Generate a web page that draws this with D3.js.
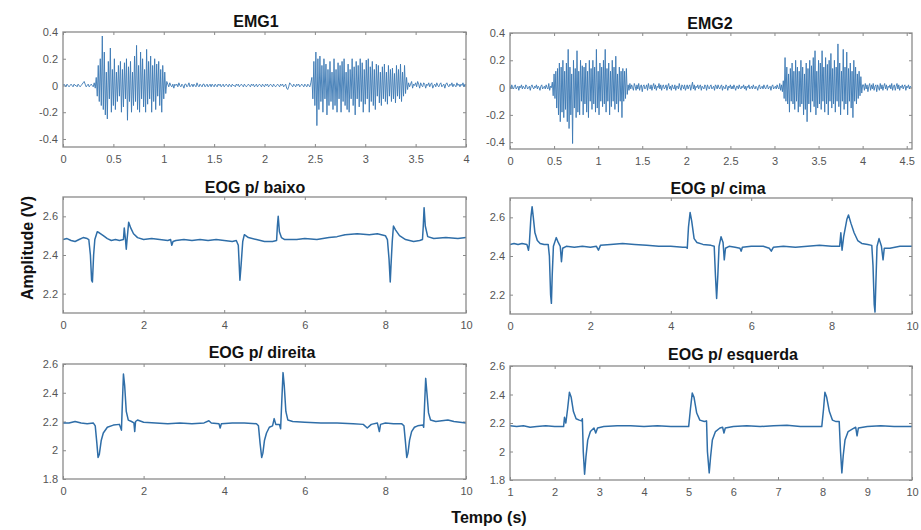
<html>
  <head>
    <script src="https://d3js.org/d3.v7.min.js"></script>
  <style>
    body { margin: 0; background: #fff; }
    .tick text {
      font-family: "Liberation Sans", Arial, sans-serif;
      font-size: 11px;
      fill: #555;
    }
    .tick line { stroke: #8a8a8a; }
    .domain { display: none; }
    .title {
      font-family: "Liberation Sans", Arial, sans-serif;
      font-size: 16px;
      font-weight: bold;
      fill: #111;
      text-anchor: middle;
    }
  </style>
  </head>

  <body>
    <svg id="mainSVG" width="921" height="530"></svg>
  </body>

  <script>
    // sampling step of the EMG recordings (s)
    const emgStep = 0.01;

    // EMG1, 0 .. 4 s
    const emg1 = [
      // quiet 0.00 - 0.32
      0, 0.01, 0, -0.01, 0.01, 0, -0.01, 0, 0.01, 0, -0.01, 0.01, 0, 0, -0.01, 0.01, 0, -0.01, 0, 0.01,
      0.02, 0.03, 0.01, -0.01, 0, 0.01, -0.01, 0, 0.01, 0, -0.01, 0.02, -0.02,
      // burst 0.33 - 1.03
      0.06, -0.08, 0.15, -0.12, 0.2, -0.15, 0.37, -0.18, 0.25, -0.22,
      0.1, -0.25, 0.18, -0.1, 0.28, -0.2, 0.12, -0.15, 0.2, -0.18,
      0.1, -0.12, 0.15, -0.08, 0.18, -0.2, 0.12, -0.16, 0.17, -0.1,
      0.2, -0.26, 0.14, -0.12, 0.18, -0.2, 0.1, -0.15, 0.22, -0.12,
      0.3, -0.18, 0.15, -0.2, 0.25, -0.1, 0.2, -0.16, 0.12, -0.2,
      0.27, -0.14, 0.18, -0.1, 0.22, -0.2, 0.15, -0.12, 0.2, -0.18,
      0.16, -0.08, 0.18, -0.15, 0.12, -0.2, 0.15, -0.1, 0.1, -0.06,
      0.03,
      // quiet 1.04 - 2.46
      0.01, -0.01, 0.02, 0, -0.01, 0.01, -0.02, 0.01, 0, 0.01,
      -0.01, 0.02, 0, -0.01, 0.01, 0, -0.02, 0.01, 0.01, -0.01,
      0, 0.02, -0.01, 0, 0.01, -0.01, 0.01, 0, -0.01, 0.02,
      0, -0.01, 0.01, 0, -0.01, 0.01, 0.01, -0.01, 0, 0.01,
      -0.01, 0, 0.01, -0.01, 0.01, 0, -0.01, 0.01, 0, -0.01,
      0.01, 0, 0.01, -0.01, 0, 0.01, -0.01, 0, 0.01, 0,
      -0.01, 0.01, 0, -0.01, 0.01, 0, 0, -0.01, 0.01, 0,
      0.01, -0.01, 0, 0.01, 0, -0.01, 0.01, 0, -0.01, 0,
      0.01, 0, -0.01, 0.01, 0, 0.01, -0.01, 0, 0.01, -0.01,
      0, 0.01, 0, -0.01, 0.01, 0, -0.01, 0.01, 0, 0.01,
      -0.01, 0, 0.01, 0, -0.01, 0.01, 0, -0.01, 0, 0.01,
      0, -0.01, 0.01, 0, 0.01, -0.01, 0, 0.01, -0.02, -0.03,
      -0.01, 0.02, 0.01, 0, -0.01, 0.01, 0, -0.01, 0.01, 0,
      0.01, -0.01, 0, 0.01, 0, -0.01, 0.01, 0, -0.01, 0.01,
      0, -0.01, 0.02,
      // burst 2.47 - 3.42
      0.06, -0.1, 0.18, -0.15, 0.25, -0.3, 0.2, -0.18, 0.22, -0.12,
      0.15, -0.2, 0.2, -0.1, 0.16, -0.22, 0.12, -0.15, 0.18, -0.12,
      0.1, -0.18, 0.2, -0.15, 0.12, -0.2, 0.17, -0.1, 0.15, -0.2,
      0.18, -0.12, 0.2, -0.15, 0.1, -0.18, 0.16, -0.2, 0.12, -0.1,
      0.2, -0.15, 0.14, -0.22, 0.18, -0.1, 0.15, -0.16, 0.2, -0.12,
      0.17, -0.2, 0.12, -0.14, 0.19, -0.1, 0.2, -0.2, 0.14, -0.12,
      0.18, -0.15, 0.12, -0.18, 0.16, -0.08, 0.15, -0.13, 0.1, -0.15,
      0.14, -0.1, 0.16, -0.12, 0.1, -0.14, 0.15, -0.08, 0.12, -0.12,
      0.13, -0.1, 0.09, -0.13, 0.15, -0.08, 0.12, -0.1, 0.16, -0.12,
      0.1, -0.08, 0.15, -0.06, 0.06, -0.03,
      // quiet 3.43 - 4.00
      0.02, -0.01, 0.01, 0.03, -0.02, 0.01, 0, 0.02, -0.01, 0.03,
      0.01, -0.02, 0.02, 0, -0.01, 0.02, 0.01, -0.02, 0.01, 0,
      0.02, -0.01, 0.01, 0.02, -0.02, 0, 0.01, -0.01, 0.02, 0,
      -0.01, 0.01, 0.02, -0.01, 0, 0.01, -0.02, 0.01, 0.02, 0,
      -0.01, 0.01, 0, 0.02, -0.01, 0.01, 0, -0.01, 0.02, 0,
      0.01, -0.01, 0.01, 0, 0.02, -0.01, 0.01, 0
    ];

    // EMG2, 0 .. 4.55 s
    const emg2 = [
      // quiet 0.00 - 0.47
      0.01, -0.01, 0.02, 0, -0.01, 0.01, 0.02, -0.01, 0, 0.01,
      -0.02, 0.01, 0, 0.02, -0.01, 0.01, 0, -0.01, 0.02, 0.01,
      -0.01, 0, 0.01, -0.02, 0.01, 0.02, 0, -0.01, 0.01, 0,
      0.02, -0.01, 0.01, 0, -0.02, 0.01, 0.02, -0.01, 0, 0.01,
      -0.01, 0.02, 0, -0.01, 0.03, -0.02, 0.01, 0,
      // burst 0.48 - 1.33
      0.04, -0.06, 0.1, -0.08, 0.12, -0.15, 0.14, -0.2, 0.18, -0.25,
      0.15, -0.18, 0.2, -0.22, 0.12, -0.16, 0.18, -0.25, 0.28, -0.3,
      0.15, -0.2, 0.1, -0.41, 0.2, -0.15, 0.14, -0.22, 0.27, -0.18,
      0.12, -0.2, 0.2, -0.1, 0.16, -0.2, 0.15, -0.12, 0.18, -0.18,
      0.12, -0.22, 0.2, -0.1, 0.14, -0.16, 0.2, -0.12, 0.15, -0.18,
      0.28, -0.15, 0.12, -0.2, 0.18, -0.1, 0.15, -0.14, 0.2, -0.12,
      0.28, -0.18, 0.14, -0.1, 0.18, -0.2, 0.12, -0.14, 0.2, -0.1,
      0.15, -0.16, 0.23, -0.12, 0.1, -0.18, 0.15, -0.1, 0.12, -0.22,
      0.14, -0.1, 0.12, -0.08, 0.14, -0.05,
      // quiet 1.34 - 3.09
      0.02, -0.02, 0.03, -0.01, 0.02, 0, -0.02, 0.03, 0.01, -0.02,
      0.02, -0.01, 0.03, -0.02, 0.01, 0.02, -0.03, 0.01, 0.02, -0.01,
      0, 0.02, -0.02, 0.03, 0, -0.01, 0.02, -0.02, 0.01, 0.03,
      -0.01, 0.02, -0.02, 0.01, 0, 0.03, -0.01, 0.02, -0.02, 0.01,
      0.02, -0.01, 0, 0.02, -0.02, 0.01, 0.03, -0.01, 0.01, -0.02,
      0.02, 0, -0.01, 0.02, -0.02, 0.01, 0.01, -0.01, 0.03, 0,
      -0.02, 0.02, 0.01, -0.01, 0.02, -0.02, 0, 0.02, -0.01, 0.01,
      0.02, -0.02, 0.01, 0.04, -0.01, 0.02, -0.02, 0.01, 0, 0.02,
      -0.01, 0.01, 0.02, -0.02, 0.01, 0, -0.01, 0.02, 0.01, -0.02,
      0.02, 0, -0.01, 0.01, 0.02, -0.01, 0, 0.01, -0.02, 0.02,
      0.01, -0.01, 0.02, 0, -0.01, 0.01, 0.02, -0.02, 0.01, 0,
      -0.01, 0.02, 0.01, -0.02, 0.01, 0, 0.02, -0.01, 0.01, -0.01,
      0.02, 0, -0.02, 0.01, 0.01, -0.01, 0.02, 0, -0.01, 0.01,
      0, 0.02, -0.01, 0.01, -0.02, 0.01, 0, 0.02, -0.01, 0,
      0.01, -0.01, 0.02, 0, -0.01, 0.01, 0, -0.02, 0.01, 0.02,
      -0.01, 0, 0.01, -0.01, 0.02, 0, -0.01, 0.01, 0.02, -0.01,
      0, 0.01, -0.02, 0.01, 0.02, -0.01, 0, 0.01, -0.01, 0.02,
      0, -0.01, 0.03, -0.02, 0.02, -0.03,
      // burst 3.10 - 4.00
      0.05, -0.08, 0.22, -0.1, 0.15, -0.12, 0.1, -0.18, 0.14, -0.1,
      0.18, -0.12, 0.12, -0.16, 0.2, -0.1, 0.15, -0.18, 0.12, -0.14,
      0.2, -0.12, 0.15, -0.2, 0.1, -0.16, 0.18, -0.25, 0.14, -0.12,
      0.2, -0.18, 0.16, -0.1, 0.22, -0.14, 0.27, -0.2, 0.12, -0.15,
      0.2, -0.12, 0.18, -0.16, 0.27, -0.1, 0.15, -0.18, 0.22, -0.12,
      0.17, -0.2, 0.2, -0.1, 0.25, -0.15, 0.14, -0.12, 0.2, -0.18,
      0.15, -0.1, 0.32, -0.14, 0.18, -0.2, 0.12, -0.1, 0.28, -0.16,
      0.15, -0.12, 0.26, -0.2, 0.14, -0.1, 0.18, -0.15, 0.12, -0.22,
      0.2, -0.1, 0.15, -0.12, 0.1, -0.08, 0.12, -0.06, 0.08, -0.04,
      0.02,
      // quiet 4.01 - 4.55
      0.02, -0.02, 0.03, -0.01, 0.02, -0.03, 0.01, 0.03, -0.02, 0.02,
      -0.01, 0.03, -0.02, 0.01, 0.02, -0.03, 0.02, 0, -0.02, 0.03,
      -0.01, 0.02, -0.02, 0.01, 0.03, -0.01, 0.02, -0.02, 0.01, 0,
      0.02, -0.01, 0.03, -0.02, 0.01, 0.02, -0.02, 0.01, 0.03, -0.01,
      0.02, -0.02, 0.01, 0, 0.02, -0.01, 0.01, 0.02, -0.02, 0.01,
      0, 0.02, -0.01, 0.01, 0
    ];

    // EOG recordings as [time (s), amplitude (V)]
    const eogBaixo = [
      [0,2.48],[0.1,2.485],[0.2,2.475],[0.3,2.47],[0.4,2.48],[0.5,2.49],[0.6,2.485],[0.64,2.48],
      [0.68,2.40],[0.71,2.27],[0.73,2.26],[0.76,2.40],[0.79,2.48],[0.85,2.52],[0.9,2.515],[1.0,2.50],
      [1.1,2.485],[1.2,2.475],[1.3,2.48],[1.4,2.475],[1.5,2.48],[1.52,2.54],[1.55,2.48],[1.57,2.43],
      [1.59,2.48],[1.63,2.57],[1.68,2.54],[1.75,2.51],[1.85,2.49],[2.0,2.48],[2.2,2.485],[2.4,2.48],
      [2.6,2.475],[2.67,2.48],[2.7,2.45],[2.73,2.47],[2.8,2.475],[3.0,2.48],[3.2,2.475],[3.4,2.48],
      [3.6,2.475],[3.8,2.48],[4.0,2.475],[4.2,2.47],[4.3,2.475],[4.35,2.45],[4.39,2.27],[4.42,2.35],
      [4.46,2.47],[4.5,2.505],[4.6,2.49],[4.8,2.48],[5.0,2.47],[5.2,2.47],[5.3,2.475],[5.32,2.55],
      [5.34,2.6],[5.37,2.52],[5.42,2.49],[5.5,2.48],[5.8,2.48],[6.0,2.485],[6.3,2.48],[6.6,2.49],
      [6.8,2.495],[7.0,2.505],[7.3,2.51],[7.6,2.505],[7.8,2.51],[8.0,2.50],[8.05,2.48],[8.09,2.38],
      [8.12,2.26],[8.14,2.35],[8.17,2.47],[8.2,2.55],[8.25,2.53],[8.35,2.50],[8.5,2.48],[8.7,2.47],
      [8.85,2.475],[8.92,2.48],[8.94,2.55],[8.96,2.645],[8.99,2.55],[9.05,2.495],[9.2,2.485],[9.5,2.49],
      [9.8,2.485],[10,2.49]
    ];

    const eogCima = [
      [0,2.46],[0.1,2.465],[0.2,2.46],[0.3,2.465],[0.42,2.46],[0.46,2.43],[0.48,2.46],[0.52,2.6],
      [0.55,2.655],[0.58,2.6],[0.62,2.52],[0.68,2.48],[0.75,2.465],[0.85,2.46],[0.95,2.46],[0.98,2.4],
      [1.01,2.2],[1.03,2.155],[1.05,2.3],[1.08,2.45],[1.15,2.495],[1.2,2.47],[1.25,2.45],[1.28,2.37],
      [1.31,2.44],[1.4,2.45],[1.6,2.445],[1.8,2.45],[2.0,2.445],[2.15,2.45],[2.2,2.43],[2.25,2.455],
      [2.5,2.46],[2.8,2.465],[3.1,2.46],[3.4,2.455],[3.7,2.45],[4.0,2.45],[4.3,2.445],[4.38,2.445],
      [4.41,2.44],[4.44,2.55],[4.48,2.625],[4.52,2.58],[4.58,2.49],[4.65,2.47],[4.8,2.46],[5.0,2.455],
      [5.08,2.45],[5.11,2.3],[5.14,2.18],[5.17,2.3],[5.2,2.45],[5.25,2.50],[5.3,2.47],[5.33,2.38],
      [5.36,2.44],[5.45,2.45],[5.6,2.445],[5.72,2.44],[5.75,2.425],[5.78,2.445],[6.0,2.45],[6.3,2.45],
      [6.45,2.44],[6.5,2.425],[6.55,2.445],[6.8,2.45],[7.1,2.445],[7.4,2.45],[7.7,2.455],[8.0,2.45],
      [8.2,2.45],[8.23,2.52],[8.26,2.43],[8.3,2.5],[8.38,2.59],[8.42,2.612],[8.48,2.57],[8.56,2.52],
      [8.65,2.48],[8.75,2.465],[8.9,2.46],[9.0,2.455],[9.03,2.35],[9.06,2.15],[9.08,2.11],[9.1,2.25],
      [9.13,2.45],[9.18,2.49],[9.24,2.45],[9.28,2.38],[9.31,2.44],[9.45,2.44],[9.7,2.45],[10,2.45]
    ];

    const eogDireita = [
      [0,2.19],[0.15,2.19],[0.3,2.2],[0.45,2.19],[0.6,2.185],[0.75,2.19],[0.8,2.17],[0.84,2.05],
      [0.87,1.95],[0.9,1.97],[0.95,2.07],[1.0,2.12],[1.1,2.16],[1.25,2.175],[1.4,2.18],[1.45,2.14],
      [1.47,2.3],[1.5,2.53],[1.53,2.45],[1.57,2.27],[1.62,2.21],[1.7,2.2],[1.76,2.19],[1.78,2.13],
      [1.8,2.2],[1.85,2.21],[2.0,2.195],[2.3,2.19],[2.6,2.185],[2.9,2.19],[3.2,2.185],[3.5,2.19],
      [3.62,2.205],[3.68,2.19],[3.87,2.185],[3.9,2.155],[3.93,2.185],[4.2,2.19],[4.5,2.19],[4.8,2.185],
      [4.85,2.17],[4.89,2.05],[4.93,1.95],[4.96,1.98],[5.0,2.07],[5.05,2.12],[5.12,2.16],[5.2,2.17],
      [5.24,2.22],[5.28,2.18],[5.37,2.18],[5.4,2.15],[5.43,2.35],[5.46,2.54],[5.49,2.45],[5.53,2.27],
      [5.58,2.21],[5.7,2.2],[6.0,2.195],[6.4,2.19],[6.8,2.19],[7.2,2.185],[7.45,2.18],[7.55,2.155],
      [7.65,2.18],[7.8,2.19],[7.85,2.13],[7.88,2.18],[8.0,2.19],[8.2,2.185],[8.4,2.185],[8.46,2.17],
      [8.5,2.05],[8.53,1.95],[8.56,1.98],[8.6,2.07],[8.65,2.13],[8.72,2.16],[8.8,2.17],[8.93,2.175],
      [8.95,2.16],[8.97,2.3],[9.0,2.5],[9.03,2.4],[9.07,2.26],[9.12,2.21],[9.25,2.2],[9.4,2.205],
      [9.55,2.21],[9.7,2.2],[9.85,2.195],[10,2.19]
    ];

    const eogEsquerda = [
      [1,2.18],[1.15,2.175],[1.3,2.18],[1.45,2.17],[1.6,2.175],[1.8,2.18],[2.0,2.175],[2.2,2.175],
      [2.22,2.24],[2.25,2.2],[2.29,2.3],[2.33,2.415],[2.37,2.38],[2.42,2.28],[2.48,2.23],[2.55,2.22],
      [2.6,2.215],[2.62,2.23],[2.64,2.0],[2.67,1.84],[2.7,1.96],[2.74,2.08],[2.8,2.14],[2.88,2.165],
      [2.92,2.13],[2.96,2.165],[3.1,2.175],[3.4,2.18],[3.7,2.18],[4.0,2.175],[4.3,2.18],[4.6,2.175],
      [4.9,2.175],[5.0,2.175],[5.04,2.3],[5.08,2.41],[5.12,2.38],[5.18,2.27],[5.25,2.22],[5.35,2.21],
      [5.4,2.215],[5.42,2.0],[5.46,1.85],[5.49,1.96],[5.53,2.08],[5.6,2.14],[5.7,2.165],[5.76,2.17],
      [5.79,2.13],[5.82,2.165],[6.0,2.175],[6.3,2.18],[6.6,2.175],[6.9,2.18],[7.2,2.185],[7.5,2.175],
      [7.8,2.175],[7.98,2.175],[8.02,2.3],[8.05,2.415],[8.09,2.38],[8.15,2.28],[8.22,2.22],[8.3,2.21],
      [8.37,2.21],[8.4,2.0],[8.43,1.85],[8.46,1.97],[8.5,2.08],[8.57,2.14],[8.68,2.16],[8.74,2.17],
      [8.77,2.11],[8.8,2.165],[9.0,2.175],[9.3,2.18],[9.6,2.175],[10,2.175]
    ];

    // tick values
    const emgYTicks = [-0.4, -0.2, 0, 0.2, 0.4];
    const emg1XTicks = [0, 0.5, 1, 1.5, 2, 2.5, 3, 3.5, 4];
    const emg2XTicks = [0, 0.5, 1, 1.5, 2, 2.5, 3, 3.5, 4, 4.5];
    const eogVertYTicks = [2.2, 2.4, 2.6];
    const eogHorYTicks = [1.8, 2, 2.2, 2.4, 2.6];
    const eogXTicks = [0, 2, 4, 6, 8, 10];
    const eogLeftXTicks = [1, 2, 3, 4, 5, 6, 7, 8, 9, 10];

    const emg1Points = emg1.map((v, i) => [i * emgStep, v]);
    const emg2Points = emg2.map((v, i) => [i * emgStep, v]);

    // panel layout (plot box in page pixels)
    const panels = [
      { title: "EMG1", pts: emg1Points, box: [63, 32, 466, 147], xDom: [0, 4], yDom: [-0.46, 0.4],
        xTicks: emg1XTicks, yTicks: emgYTicks, tx: 256, ty: 27, lw: 0.9, col: "#3b78b3" },
      { title: "EMG2", pts: emg2Points, box: [510, 33, 912, 149], xDom: [0, 4.56], yDom: [-0.45, 0.4],
        xTicks: emg2XTicks, yTicks: emgYTicks, tx: 710, ty: 29, lw: 0.9, col: "#3b78b3" },
      { title: "EOG p/ baixo", pts: eogBaixo, box: [63, 197, 466, 313], xDom: [0, 10], yDom: [2.1, 2.7],
        xTicks: eogXTicks, yTicks: eogVertYTicks, tx: 255, ty: 193, lw: 1.5, col: "#2f6ea8" },
      { title: "EOG p/ cima", pts: eogCima, box: [510, 198, 912, 314], xDom: [0, 10], yDom: [2.1, 2.7],
        xTicks: eogXTicks, yTicks: eogVertYTicks, tx: 718, ty: 194, lw: 1.5, col: "#2f6ea8" },
      { title: "EOG p/ direita", pts: eogDireita, box: [63, 364, 466, 479], xDom: [0, 10], yDom: [1.8, 2.6],
        xTicks: eogXTicks, yTicks: eogHorYTicks, tx: 262, ty: 358, lw: 1.5, col: "#2f6ea8" },
      { title: "EOG p/ esquerda", pts: eogEsquerda, box: [510, 366, 912, 480], xDom: [1, 10], yDom: [1.8, 2.6],
        xTicks: eogLeftXTicks, yTicks: eogHorYTicks, tx: 733, ty: 360, lw: 1.5, col: "#2f6ea8" }
    ];

    const mainSvg = d3.select("#mainSVG");
    mainSvg.append("rect").attr("width", 921).attr("height", 530).attr("fill", "#fff");

    const fmt = d => String(d);

    panels.forEach((p, idx) => {
      const [x0, y0, x1, y1] = p.box;
      const w = x1 - x0, h = y1 - y0;

      const xScale = d3.scaleLinear().domain(p.xDom).range([0, w]);
      const yScale = d3.scaleLinear().domain(p.yDom).range([h, 0]);

      const g = mainSvg.append("g").attr("transform", `translate(${x0},${y0})`);

      mainSvg.append("clipPath").attr("id", "clip" + idx)
        .append("rect").attr("width", w).attr("height", h);

      // axes with inward ticks on all four sides
      g.append("g").attr("transform", `translate(0,${h})`)
        .call(d3.axisBottom(xScale).tickValues(p.xTicks).tickSize(-3).tickPadding(8).tickFormat(fmt));
      g.append("g")
        .call(d3.axisTop(xScale).tickValues(p.xTicks).tickSize(-3).tickFormat(""));
      g.append("g")
        .call(d3.axisLeft(yScale).tickValues(p.yTicks).tickSize(-3).tickPadding(5).tickFormat(fmt));
      g.append("g").attr("transform", `translate(${w},0)`)
        .call(d3.axisRight(yScale).tickValues(p.yTicks).tickSize(-3).tickFormat(""));

      // the signal
      const line = d3.line().x(d => xScale(d[0])).y(d => yScale(d[1]));
      g.append("path")
        .datum(p.pts)
        .attr("clip-path", `url(#clip${idx})`)
        .attr("d", line)
        .attr("fill", "none")
        .attr("stroke", p.col)
        .attr("stroke-width", p.lw)
        .attr("stroke-linejoin", "round");

      // box
      g.append("rect")
        .attr("width", w).attr("height", h)
        .attr("fill", "none")
        .attr("stroke", "#8a8a8a")
        .attr("stroke-width", 1.3);

      mainSvg.append("text")
        .attr("class", "title")
        .attr("x", p.tx).attr("y", p.ty)
        .text(p.title);
    });

    // shared axis labels
    mainSvg.append("text")
      .attr("class", "title")
      .attr("transform", "rotate(-90)")
      .attr("x", -248)
      .attr("y", 33)
      .text("Amplitude (V)");

    mainSvg.append("text")
      .attr("class", "title")
      .attr("x", 489)
      .attr("y", 523)
      .text("Tempo (s)");
  </script>
</html>
